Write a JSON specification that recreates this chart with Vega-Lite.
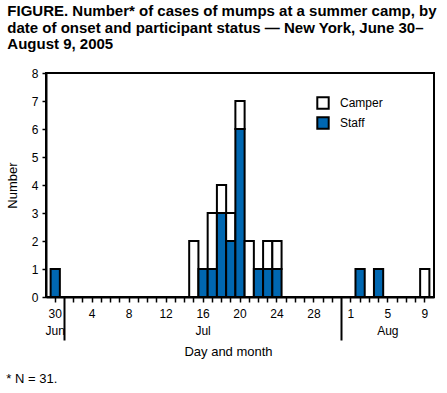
{
  "$schema": "https://vega.github.io/schema/vega-lite/v6.json",
  "background": "white",
  "padding": {"left": 5, "top": 4, "right": 10, "bottom": 2},
  "config": {
    "view": {"stroke": "black", "strokeWidth": 2},
    "font": "Liberation Sans",
    "concat": {"spacing": 0}
  },
  "title": {
    "text": ["FIGURE. Number* of cases of mumps at a summer camp, by", "date of onset and participant status — New York, June 30–", "August 9, 2005"],
    "anchor": "start",
    "frame": "bounds",
    "font": "Liberation Sans",
    "fontSize": 15,
    "fontWeight": "bold",
    "lineHeight": 16.5,
    "offset": 14,
    "color": "black",
    "dx": 2
  },
  "vconcat": [
    {
      "width": 388,
      "height": 224,
      "title": {
        "text": "* N = 31.",
        "orient": "bottom",
        "anchor": "start",
        "frame": "bounds",
        "fontSize": 13,
        "fontWeight": "normal",
        "offset": 15,
        "color": "black"
      },
      "data": {
        "values": [
          {"day": "Jun 30", "status": "Staff", "cases": 1},
          {"day": "Jul 15", "status": "Camper", "cases": 2},
          {"day": "Jul 16", "status": "Staff", "cases": 1},
          {"day": "Jul 17", "status": "Staff", "cases": 1},
          {"day": "Jul 17", "status": "Camper", "cases": 2},
          {"day": "Jul 18", "status": "Staff", "cases": 3},
          {"day": "Jul 18", "status": "Camper", "cases": 1},
          {"day": "Jul 19", "status": "Staff", "cases": 2},
          {"day": "Jul 19", "status": "Camper", "cases": 1},
          {"day": "Jul 20", "status": "Staff", "cases": 6},
          {"day": "Jul 20", "status": "Camper", "cases": 1},
          {"day": "Jul 21", "status": "Camper", "cases": 2},
          {"day": "Jul 22", "status": "Staff", "cases": 1},
          {"day": "Jul 23", "status": "Staff", "cases": 1},
          {"day": "Jul 23", "status": "Camper", "cases": 1},
          {"day": "Jul 24", "status": "Staff", "cases": 1},
          {"day": "Jul 24", "status": "Camper", "cases": 1},
          {"day": "Aug 2", "status": "Staff", "cases": 1},
          {"day": "Aug 4", "status": "Staff", "cases": 1},
          {"day": "Aug 9", "status": "Camper", "cases": 1}
        ]
      },
      "mark": {"type": "bar", "stroke": "black", "strokeWidth": 2},
      "encoding": {
        "x": {
          "field": "day",
          "type": "ordinal",
          "scale": {
            "domain": ["Jun 30", "Jul 1", "Jul 2", "Jul 3", "Jul 4", "Jul 5", "Jul 6", "Jul 7", "Jul 8", "Jul 9", "Jul 10", "Jul 11", "Jul 12", "Jul 13", "Jul 14", "Jul 15", "Jul 16", "Jul 17", "Jul 18", "Jul 19", "Jul 20", "Jul 21", "Jul 22", "Jul 23", "Jul 24", "Jul 25", "Jul 26", "Jul 27", "Jul 28", "Jul 29", "Jul 30", "Jul 31", "Aug 1", "Aug 2", "Aug 3", "Aug 4", "Aug 5", "Aug 6", "Aug 7", "Aug 8", "Aug 9"],
            "paddingInner": 0,
            "paddingOuter": 0.5
          },
          "axis": {
            "title": "Day and month",
            "titleFontSize": 13,
            "titleFontWeight": "normal",
            "titleColor": "black",
            "titleX": 182,
            "titleY": 48,
            "titleBaseline": "top",
            "labelAngle": 0,
            "labelFontSize": 12,
            "labelLineHeight": 17,
            "labelPadding": 6,
            "labelColor": "black",
            "labelOverlap": false,
            "labelExpr": "datum.value == 'Jun 30' ? ['30', 'Jun'] : datum.value == 'Jul 16' ? ['16', '\u00a0\u00a0Jul'] : datum.value == 'Aug 5' ? ['5', '\u00a0\u00a0\u00a0Aug'] : indexof(['Jul 4', 'Jul 8', 'Jul 12', 'Jul 20', 'Jul 24', 'Jul 28', 'Aug 1', 'Aug 9'], datum.value) >= 0 ? split(datum.value, ' ')[1] : ''",
            "tickSize": {"condition": {"test": "datum.value == 'Jul 1' || datum.value == 'Jul 31'", "value": 43}, "value": 5},
            "tickWidth": {"condition": {"test": "datum.value == 'Jul 1' || datum.value == 'Jul 31'", "value": 2}, "value": 1.5},
            "tickColor": "black",
            "domainColor": "black",
            "domainWidth": 2
          }
        },
        "y": {
          "field": "cases",
          "type": "quantitative",
          "scale": {"domain": [0, 8]},
          "axis": {
            "title": "Number",
            "titleFontSize": 13,
            "titleFontWeight": "normal",
            "titleColor": "black",
            "titlePadding": 12,
            "values": [0, 1, 2, 3, 4, 5, 6, 7, 8],
            "grid": false,
            "labelFontSize": 12,
            "labelColor": "black",
            "labelPadding": 4,
            "tickSize": 4,
            "tickWidth": 1.5,
            "tickColor": "black",
            "domainColor": "black",
            "domainWidth": 2
          }
        },
        "color": {
          "field": "status",
          "type": "nominal",
          "scale": {"domain": ["Camper", "Staff"], "range": ["white", "#0067b1"]},
          "legend": {
            "orient": "none",
            "legendX": 270,
            "legendY": 23,
            "title": null,
            "padding": 0,
            "symbolType": "square",
            "symbolSize": 130,
            "symbolStrokeColor": "black",
            "symbolStrokeWidth": 2,
            "labelFontSize": 12,
            "labelColor": "black",
            "labelOffset": 10,
            "rowPadding": 0
          }
        },
        "order": {"field": "status", "sort": "descending"}
      }
    }
  ]
}
